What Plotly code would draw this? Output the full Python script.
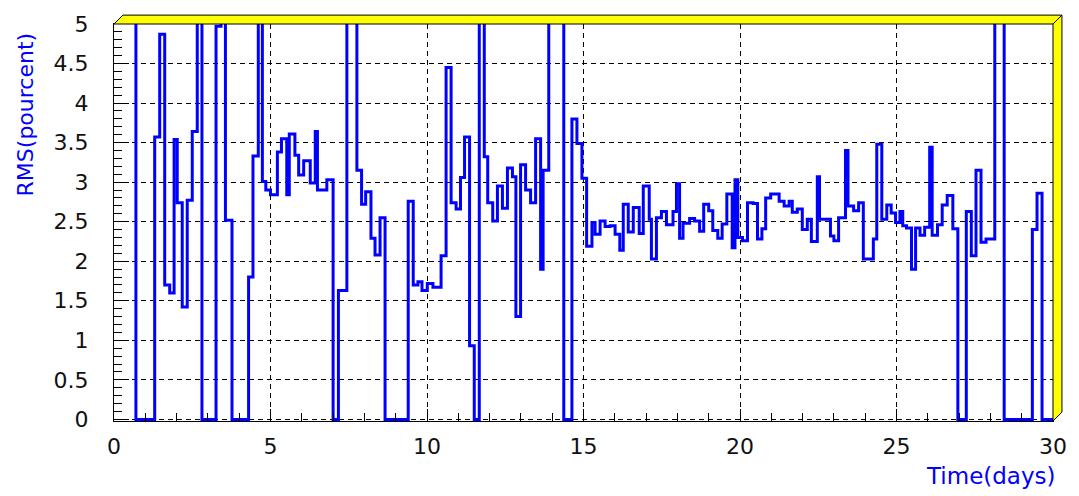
import plotly.graph_objects as go

# ---- data (bin start in days, RMS in %) ----
# 6.0 marks bins that are above the displayed range (clipped at 5)
bin_start = [
    0.00, 0.70, 1.30, 1.46, 1.62, 1.78, 1.92, 2.02, 2.18, 2.34, 2.50, 2.66, 2.81,
    3.26, 3.42, 3.56, 3.77, 4.30, 4.44, 4.61, 4.74, 4.85, 5.00, 5.22, 5.35, 5.52,
    5.60, 5.78, 5.90, 6.06, 6.27, 6.43, 6.50, 6.80, 7.00, 7.17, 7.44, 7.76, 7.91,
    8.04, 8.21, 8.34, 8.50, 8.66, 9.40, 9.56, 9.71, 9.84, 10.01, 10.19, 10.45,
    10.61, 10.77, 10.93, 11.07, 11.20, 11.36, 11.51, 11.67, 11.83, 11.94, 12.10,
    12.25, 12.41, 12.57, 12.73, 12.84, 12.99, 13.15, 13.31, 13.47, 13.63, 13.71,
    13.89, 14.37, 14.63, 14.79, 14.95, 15.10, 15.27, 15.37, 15.53, 15.69, 15.85,
    16.01, 16.16, 16.27, 16.43, 16.59, 16.78, 16.91, 17.10, 17.17, 17.33, 17.49,
    17.65, 17.86, 17.97, 18.07, 18.18, 18.39, 18.55, 18.71, 18.84, 19.00, 19.13,
    19.29, 19.43, 19.58, 19.75, 19.84, 19.93, 20.08, 20.24, 20.42, 20.56, 20.70,
    20.82, 20.98, 21.25, 21.41, 21.57, 21.67, 21.83, 21.99, 22.15, 22.28, 22.47,
    22.54, 22.89, 23.00, 23.15, 23.37, 23.45, 23.63, 23.79, 23.94, 24.26, 24.37,
    24.53, 24.69, 24.83, 24.97, 25.11, 25.20, 25.32, 25.48, 25.61, 25.75, 25.90,
    26.06, 26.14, 26.31, 26.46, 26.62, 26.80, 26.96, 27.23, 27.39, 27.54, 27.70,
    27.86, 28.14, 28.44, 29.34, 29.49, 29.65,
]
rms = [
    6.0, 0.0, 3.57, 4.87, 1.70, 1.60, 3.54, 2.74, 1.42, 2.77, 3.64, 6.0, 0.0,
    4.97, 6.0, 2.52, 0.0, 1.80, 3.33, 6.0, 3.01, 2.90, 2.84, 3.38, 3.55, 2.84,
    3.61, 3.34, 3.09, 3.27, 2.99, 3.64, 2.90, 3.03, 0.0, 1.63, 6.0, 3.15, 2.72,
    2.88, 2.29, 2.08, 2.55, 0.0, 2.76, 1.70, 1.74, 1.63, 1.72, 1.67, 2.07,
    4.45, 2.74, 2.66, 3.06, 3.57, 0.93, 0.0, 6.0, 3.32, 2.74, 2.51,
    2.95, 2.67, 3.18, 3.07, 1.30, 3.22, 2.90, 2.74, 3.55, 1.90, 3.15,
    6.0, 0.0, 3.80, 3.49, 3.05, 2.19, 2.49, 2.34, 2.51, 2.44, 2.45,
    2.34, 2.14, 2.72, 2.37, 2.68, 2.35, 2.95, 2.53, 2.03, 2.55, 2.63,
    2.46, 2.63, 2.98, 2.29, 2.48, 2.54, 2.51, 2.38, 2.72, 2.64, 2.39,
    2.29, 2.47, 2.85, 2.17, 3.03, 2.30, 2.26, 2.74, 2.73, 2.28, 2.41,
    2.80, 2.85, 2.76, 2.70, 2.76, 2.62, 2.66, 2.40, 2.53, 2.25, 3.07,
    2.53, 2.32, 2.26, 2.55, 3.40, 2.70, 2.64, 2.74, 2.03, 2.28, 3.48,
    2.53, 2.71, 2.61, 2.49, 2.63, 2.45, 2.42, 1.90, 2.42, 2.33, 2.43,
    3.44, 2.33, 2.46, 2.71, 2.83, 2.41, 0.0, 2.63, 2.07, 3.15, 2.24,
    2.28, 6.0, 0.0, 2.40, 2.86, 0.0,
]
x_end = 30.0

x_ticks = [0, 5, 10, 15, 20, 25, 30]
y_ticks = [0, 0.5, 1, 1.5, 2, 2.5, 3, 3.5, 4, 4.5, 5]
y_tick_text = ["0", "0.5", "1", "1.5", "2", "2.5", "3", "3.5", "4", "4.5", "5"]

# ---- figure ----
W_FIG, H_FIG = 1079, 496
L, R, T, B = 114, 1059, 19, 421
PW, PH = R - L, B - T
D = 9  # 3D frame depth in px


def px(xp):
    return (xp - L) / PW


def py(yp):
    return (B - yp) / PH


xs = bin_start + [x_end]
ys = rms + [rms[-1]]

fig = go.Figure()
fig.add_trace(go.Scatter(
    x=xs, y=ys, mode="lines", line=dict(color="#0000ff", width=3, shape="hv"),
    hoverinfo="skip", showlegend=False,
))

font_family = "DejaVu Sans"

fig.update_layout(
    width=W_FIG, height=H_FIG, autosize=False,
    margin=dict(l=L, r=W_FIG - R, t=T, b=H_FIG - B, pad=0),
    paper_bgcolor="white", plot_bgcolor="white",
    font=dict(family=font_family, color="black", size=22),
    xaxis=dict(
        range=[0, 30], tickvals=x_ticks, ticktext=[str(v) for v in x_ticks],
        ticks="inside", ticklen=12, tickwidth=1, tickcolor="black",
        showline=True, mirror=True, linecolor="black", linewidth=1,
        showgrid=True, gridcolor="black", gridwidth=1, griddash="5px,4px",
        zeroline=False, ticklabelstandoff=6,
        tickfont=dict(size=22, family=font_family, color="#111111"),
        minor=dict(dtick=1, ticks="inside", ticklen=8, tickcolor="black", showgrid=False),
    ),
    yaxis=dict(
        range=[-0.02, 5.0], tickvals=y_ticks, ticktext=y_tick_text,
        ticks="inside", ticklen=15, tickwidth=1, tickcolor="black",
        showline=True, mirror=True, linecolor="black", linewidth=1,
        showgrid=True, gridcolor="black", gridwidth=1, griddash="5px,4px",
        zeroline=False, ticklabelstandoff=20,
        tickfont=dict(size=22, family=font_family, color="#111111"),
        minor=dict(dtick=0.1, tick0=0, ticks="inside", ticklen=8, tickcolor="black", showgrid=False),
    ),
)

# yellow 3D frame bevel (top and right)
top_band = (f"M {px(L)},{py(T)} L {px(L + D)},{py(T - D)} L {px(R + D)},{py(T - D)} "
            f"L {px(R)},{py(T)} Z")
right_band = (f"M {px(R)},{py(T)} L {px(R + D)},{py(T - D)} L {px(R + D)},{py(B - D)} "
              f"L {px(R)},{py(B)} Z")
for path in (top_band, right_band):
    fig.add_shape(type="path", path=path, xref="paper", yref="paper",
                  fillcolor="#ffff00", line=dict(color="black", width=1), layer="above")

# axis titles (ROOT style: at the end of the axis)
fig.add_annotation(
    text="RMS(pourcent)", xref="paper", yref="paper",
    x=px(25), y=py(111), xanchor="center", yanchor="middle",
    textangle=-90, showarrow=False,
    font=dict(family=font_family, size=22, color="#0000ff"),
)
fig.add_annotation(
    text="Time(days)", xref="paper", yref="paper",
    x=px(1064), y=py(477), xanchor="right", yanchor="middle",
    showarrow=False,
    font=dict(family=font_family, size=23, color="#0000ff"),
)

# remove the browser's default body margin so the figure sits at (0, 0)
fig.write_html("out.html", config={"displayModeBar": False},
               post_script="document.body.style.margin='0';")
